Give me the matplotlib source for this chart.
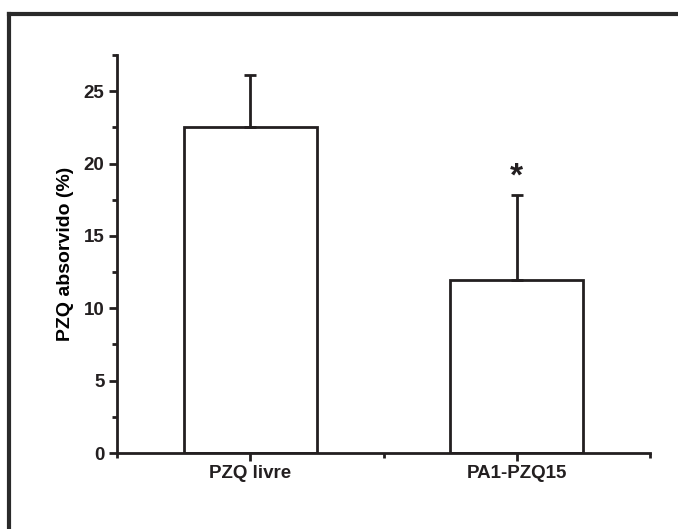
import matplotlib.pyplot as plt
from matplotlib.lines import Line2D
from matplotlib.ticker import MultipleLocator

# data
groups = ["PZQ livre", "PA1-PZQ15"]
absorbed = [22.55, 11.95]
errors = [3.55, 5.85]
marks = ["", "*"]

plt.rcParams["font.family"] = ["Liberation Sans", "DejaVu Sans"]
plt.rcParams["font.weight"] = "bold"
ink = "#231f20"

fig = plt.figure(figsize=(6.78, 5.29), dpi=100)
ax = fig.add_axes([117 / 678, 1 - 453 / 529, 533 / 678, 398 / 529])

pos = list(range(len(groups)))
ax.bar(pos, absorbed, width=0.5, color="white", edgecolor=ink, linewidth=2)
ax.errorbar(pos, absorbed, yerr=[[0] * len(errors), errors], fmt="none",
            ecolor=ink, elinewidth=2, capsize=4, capthick=2)
for p, v, e, m in zip(pos, absorbed, errors, marks):
    if m:
        ax.text(p, v + e + 0.2, m, ha="center", va="bottom", fontsize=24,
                fontweight="bold", color=ink)

ax.set_xlim(-0.5, 1.5)
ax.set_ylim(0, 27.5)
ax.set_xticks(pos)
ax.set_xticklabels(groups)
ax.xaxis.set_minor_locator(MultipleLocator(1.0, offset=0.5))
ax.yaxis.set_major_locator(MultipleLocator(5))
ax.yaxis.set_minor_locator(MultipleLocator(2.5))
ax.set_ylabel("PZQ absorvido (%)", fontsize=14, fontweight="bold", labelpad=7)

for s in ["top", "right"]:
    ax.spines[s].set_visible(False)
for s in ["left", "bottom"]:
    ax.spines[s].set_linewidth(2)
    ax.spines[s].set_color(ink)
ax.tick_params(which="major", length=6, width=2, color=ink, labelsize=13.5,
               labelcolor=ink, pad=3)
ax.tick_params(which="minor", length=3.5, width=2, color=ink)

# frame left over from the original page crop
fig.add_artist(Line2D([9 / 678, 9 / 678], [0, 1 - 14 / 529], color="#2a2a2a",
                      linewidth=3, transform=fig.transFigure))
fig.add_artist(Line2D([9 / 678, 1], [1 - 14 / 529, 1 - 14 / 529], color="#2a2a2a",
                      linewidth=3, transform=fig.transFigure))

fig.savefig("out.png", dpi=100)
